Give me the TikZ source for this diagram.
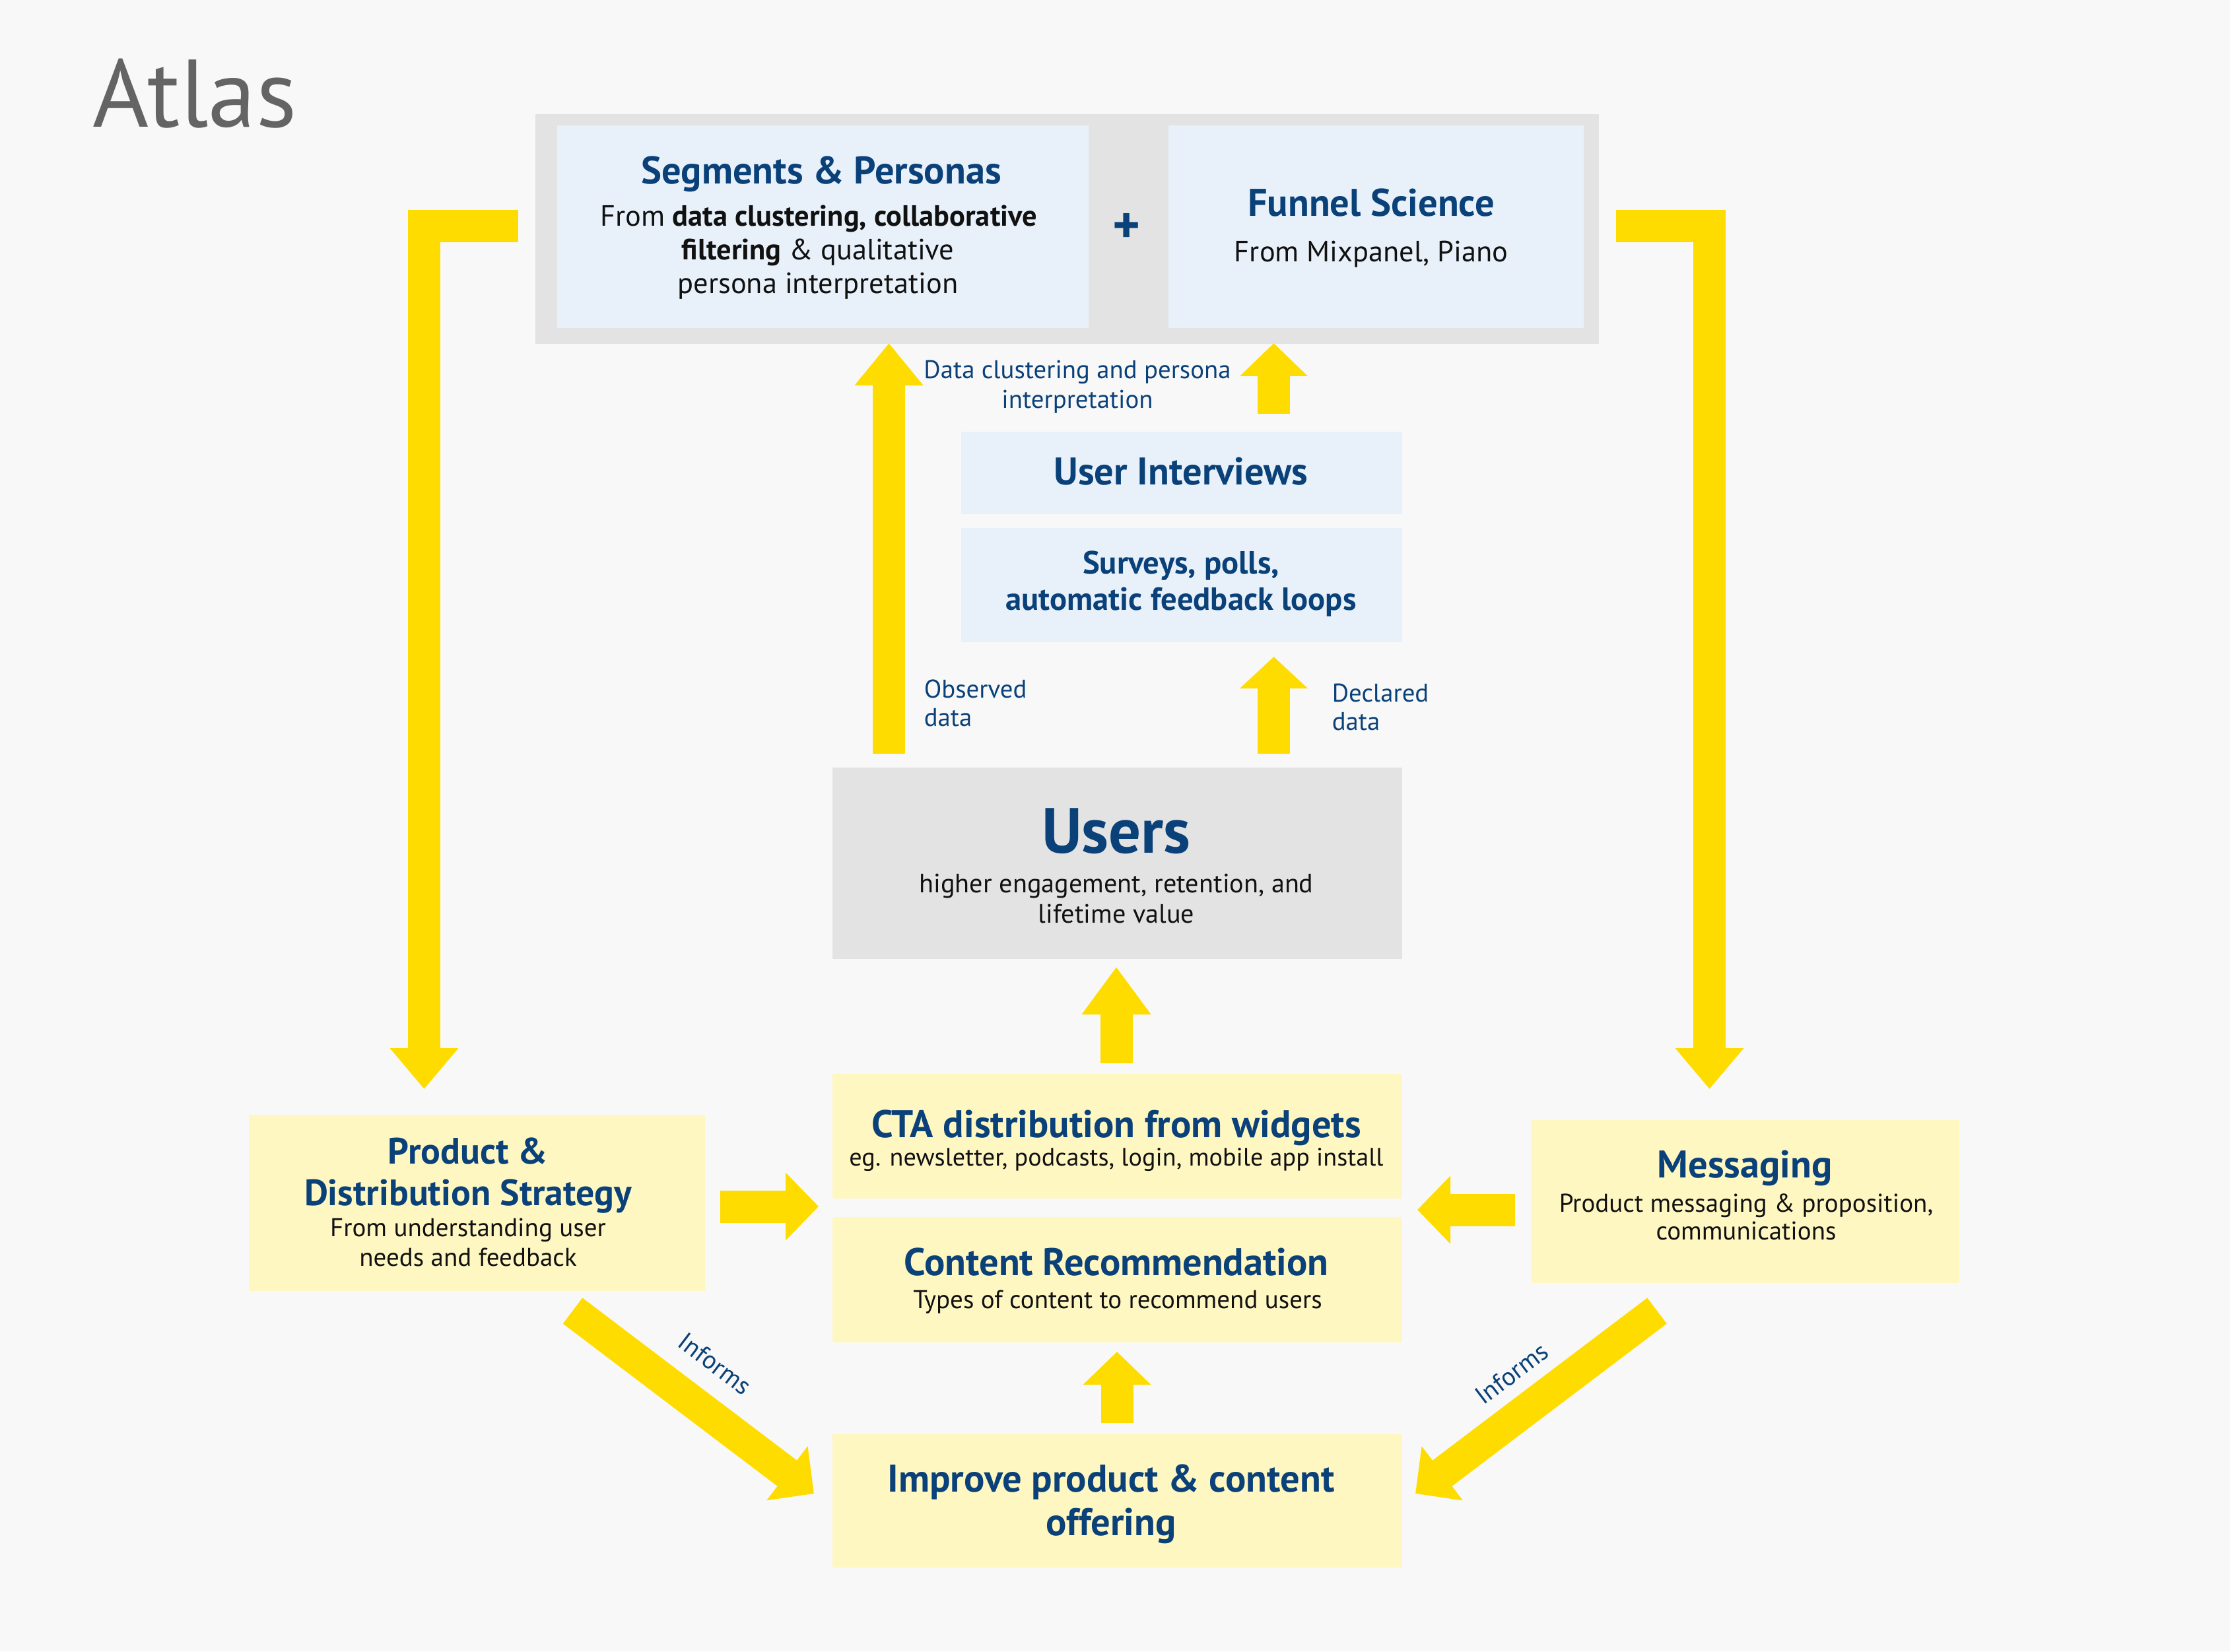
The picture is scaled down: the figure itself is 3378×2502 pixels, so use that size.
\documentclass[tikz,border=0pt]{standalone}
\usepackage{fontspec}
\setmainfont{PT Sans}
\usetikzlibrary{arrows.meta}
\definecolor{bgc}{HTML}{F8F8F8}
\definecolor{greyc}{HTML}{E3E3E3}
\definecolor{bluec}{HTML}{E8F1FA}
\definecolor{ylwbox}{HTML}{FFF7C2}
\definecolor{ylw}{HTML}{FFDC00}
\definecolor{navy}{HTML}{0A4179}
\definecolor{ink}{HTML}{111111}
\definecolor{atlasc}{HTML}{646464}
\begin{document}
\begin{tikzpicture}[x=0.25pt,y=-0.25pt,
  greybox/.style={fill=greyc,draw=none,inner sep=0,anchor=north west},
  bluebox/.style={fill=bluec,draw=none,inner sep=0,anchor=north west},
  ylbox/.style={fill=ylwbox,draw=none,inner sep=0,anchor=north west},
  txt/.style={inner sep=0,anchor=base},
  ttl/.style={txt,text=navy,font=\fontsize{14.6pt}{17pt}\selectfont\bfseries},
  body/.style={txt,text=ink,font=\fontsize{11.1pt}{13pt}\selectfont},
  sub/.style={txt,text=ink,font=\fontsize{9.75pt}{11.5pt}\selectfont},
  lab/.style={txt,text=navy,font=\fontsize{9.7pt}{11.5pt}\selectfont},
  yarrow/.style={draw=ylw,line width=12.25pt,line cap=butt,line join=miter}
]
\useasboundingbox (0,0) rectangle (3378,2502);
\fill[bgc] (0,0) rectangle (3378,2502);

% title
\node[txt,anchor=base west,text=atlasc,font=\fontsize{36.4pt}{40pt}\selectfont] (atlas) at (140,193) {Atlas};

% top group
\node[greybox,minimum width=402.75pt,minimum height=87pt] (outer) at (810,172) {};
\node[bluebox,minimum width=201.25pt,minimum height=76.75pt] (seg) at (843,189) {};
\node[bluebox,minimum width=157.25pt,minimum height=76.75pt] (fun) at (1769,189) {};
\node[ttl] (segT) at (1244,279) {Segments \& Personas};
\node[body] (segL1) at (1240,343) {From \textbf{data clustering, collaborative}};
\node[body] (segL2) at (1239,394) {\textbf{filtering} \& qualitative};
\node[body] (segL3) at (1239,445) {persona interpretation};
\node[ttl] (funT) at (2077,328) {Funnel Science};
\node[body] (funL1) at (2077,397) {From Mixpanel, Piano};
\node[inner sep=0,text=navy,font=\fontsize{20pt}{20pt}\selectfont\bfseries] (plus) at (1707,346) {+};

% middle
\node[bluebox,minimum width=167pt,minimum height=31.25pt] (ui) at (1455,653) {};
\node[bluebox,minimum width=167pt,minimum height=43.25pt] (sv) at (1455,799) {};
\node[ttl] (uiT) at (1789,734) {User Interviews};
\node[txt,text=navy,font=\fontsize{12.15pt}{14pt}\selectfont\bfseries] (svL1) at (1789,869) {Surveys, polls,};
\node[txt,text=navy,font=\fontsize{12.15pt}{14pt}\selectfont\bfseries] (svL2) at (1789,924) {automatic feedback loops};

\node[lab] (dcL1) at (1632,574) {Data clustering and persona};
\node[lab] (dcL2) at (1632,618) {interpretation};
\node[lab,anchor=base west] (obL1) at (1399,1057) {Observed};
\node[lab,anchor=base west] (obL2) at (1399,1100) {data};
\node[lab,anchor=base west] (deL1) at (2017,1063) {Declared};
\node[lab,anchor=base west] (deL2) at (2017,1106) {data};

% users
\node[greybox,minimum width=215.75pt,minimum height=72.5pt] (users) at (1260,1162) {};
\node[txt,text=navy,font=\fontsize{24.2pt}{26pt}\selectfont\bfseries] (usersT) at (1691,1292) {Users};
\node[txt,text=ink,font=\fontsize{10.05pt}{12pt}\selectfont] (usersL1) at (1691,1352) {higher engagement, retention, and};
\node[txt,text=ink,font=\fontsize{10.05pt}{12pt}\selectfont] (usersL2) at (1691,1398) {lifetime value};

% lower boxes
\node[ylbox,minimum width=215.75pt,minimum height=47.25pt] (cta) at (1260,1626) {};
\node[ylbox,minimum width=215.75pt,minimum height=47.5pt] (cont) at (1260,1843) {};
\node[ylbox,minimum width=215.75pt,minimum height=50.5pt] (impr) at (1260,2172) {};
\node[ylbox,minimum width=172.75pt,minimum height=66.75pt] (prod) at (376,1688) {};
\node[ylbox,minimum width=162pt,minimum height=61.75pt] (msg) at (2319,1696) {};

\node[ttl] (ctaT) at (1691,1723) {CTA distribution from widgets};
\node[sub,font=\fontsize{9.55pt}{11.5pt}\selectfont] (ctaL) at (1691,1766) {eg. newsletter, podcasts, login, mobile app install};
\node[ttl] (contT) at (1691,1932) {Content Recommendation};
\node[sub] (contL) at (1693,1982) {Types of content to recommend users};
\node[ttl] (imprL1) at (1683,2260) {Improve product \& content};
\node[ttl] (imprL2) at (1683,2326) {offering};
\node[txt,text=navy,font=\fontsize{13.9pt}{16pt}\selectfont\bfseries] (prodL1) at (709,1763) {Product \&};
\node[txt,text=navy,font=\fontsize{13.9pt}{16pt}\selectfont\bfseries] (prodL2) at (709,1826) {Distribution Strategy};
\node[sub] (prodL3) at (709,1873) {From understanding user};
\node[sub] (prodL4) at (709,1918) {needs and feedback};
\node[ttl] (msgT) at (2643,1784) {Messaging};
\node[sub] (msgL1) at (2645,1836) {Product messaging \& proposition,};
\node[sub] (msgL2) at (2645,1878) {communications};

% arrow coordinates
\coordinate (obsS) at (1346.5,1142);
\coordinate (obsE) at (1346.5,520);
\coordinate (funS) at (1929.5,627);
\coordinate (funE) at (1929.5,520);
\coordinate (decS) at (1929.5,1142);
\coordinate (decE) at (1929.5,995);
\coordinate (usrS) at (1691,1611);
\coordinate (usrE) at (1691,1465);
\coordinate (conS) at (1692,2156);
\coordinate (conE) at (1692,2048);
\coordinate (prS) at (1091,1828);
\coordinate (prE) at (1240,1828);
\coordinate (msS) at (2295,1833);
\coordinate (msE) at (2147,1833);
\coordinate (lS) at (785,342.5);
\coordinate (lC) at (642.5,342.5);
\coordinate (lE) at (642.5,1650);
\coordinate (rS) at (2448,342.5);
\coordinate (rC) at (2589.5,342.5);
\coordinate (rE) at (2589.5,1650);
\coordinate (dlS) at (867.5,1986);
\coordinate (dlE) at (1233,2263);
\coordinate (drS) at (2510,1986);
\coordinate (drE) at (2144,2263);

\draw[yarrow,-{Triangle[width=25pt,length=16pt]}] (obsS) -- (obsE);
\draw[yarrow,-{Triangle[width=25pt,length=12.5pt]}] (funS) -- (funE);
\draw[yarrow,-{Triangle[width=25pt,length=12pt]}] (decS) -- (decE);
\draw[yarrow,-{Triangle[width=25pt,length=18pt]}] (usrS) -- (usrE);
\draw[yarrow,-{Triangle[width=25pt,length=12.5pt]}] (conS) -- (conE);
\draw[yarrow,-{Triangle[width=25pt,length=12.5pt]}] (prS) -- (prE);
\draw[yarrow,-{Triangle[width=25pt,length=12.5pt]}] (msS) -- (msE);
\draw[yarrow,-{Triangle[width=25pt,length=15.5pt]}] (lS) -- (lC) -- (lE);
\draw[yarrow,-{Triangle[width=25pt,length=15.5pt]}] (rS) -- (rC) -- (rE);
\draw[yarrow,-{Triangle[width=25pt,length=12.75pt]}] (dlS) -- (dlE);
\draw[yarrow,-{Triangle[width=25pt,length=12.75pt]}] (drS) -- (drE);

\node[lab,anchor=center,rotate=-37.2] (infL) at (1083,2066) {Informs};
\node[lab,anchor=center,rotate=37.2] (infR) at (2290,2081) {Informs};
\end{tikzpicture}
\end{document}
